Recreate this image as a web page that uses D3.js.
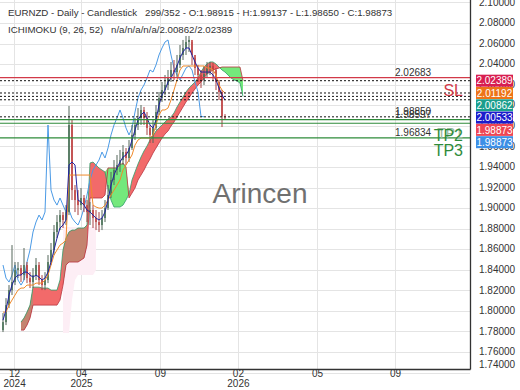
<!DOCTYPE html>
<html>
<head>
<meta charset="utf-8">
<script src="https://cdn.jsdelivr.net/npm/d3@7"></script>
<style>
  body { margin: 0; background: #fff; }
  svg { display: block; font-family: "Liberation Sans", Arial, sans-serif; }
</style>
</head>
<body>
<div id="chart"></div>
<script>
// price data, one entry per sampled session (oldest first)
const firstOpen = 1.7813;
const closes = [1.7891, 1.8056, 1.8202, 1.8280, 1.8397, 1.8416, 1.8348, 1.8446, 1.8319, 1.8280,
  1.8348, 1.8446, 1.8300, 1.8251, 1.8300, 1.8475, 1.8592, 1.8767, 1.8864, 1.8932,
  1.8884, 1.8961, 1.9808, 1.9175, 1.9078, 1.9029, 1.9098, 1.9029, 1.8961, 1.8981,
  1.8903, 1.8864, 1.8835, 1.8903, 1.9000, 1.9127, 1.9273, 1.9370, 1.9419, 1.9467,
  1.9545, 1.9487, 1.9584, 1.9711, 1.9808, 1.9876, 1.9954, 1.9876, 1.9779, 1.9711,
  1.9779, 1.9934, 2.0071, 2.0148, 2.0197, 2.0265, 2.0343, 2.0323, 2.0392, 2.0489,
  2.0557, 2.0615, 2.0635, 2.0489, 2.0362, 2.0294, 2.0246, 2.0304, 2.0362, 2.0382,
  2.0343, 2.0226, 2.0129, 1.98915, 1.98873];
const highs = [1.7979, 1.8124, 1.8251, 1.8640, 1.8475, 1.8475, 1.8446, 1.8611, 1.8475, 1.8377,
  1.8416, 1.8514, 1.8475, 1.8348, 1.8377, 1.8543, 1.8660, 1.8835, 1.8932, 1.8981,
  1.8961, 1.9029, 1.9993, 1.9856, 1.9224, 1.9175, 1.9195, 1.9127, 1.9078, 1.9059,
  1.9029, 1.8981, 1.8961, 1.8981, 1.9078, 1.9224, 1.9351, 1.9467, 1.9516, 1.9565,
  1.9613, 1.9584, 1.9662, 1.9808, 1.9876, 1.9973, 2.0002, 1.9983, 1.9934, 1.9808,
  1.9856, 2.0002, 2.0129, 2.0226, 2.0294, 2.0343, 2.0421, 2.0440, 2.0489, 2.0586,
  2.0635, 2.0674, 2.0674, 2.0615, 2.0460, 2.0392, 2.0343, 2.0382, 2.0421, 2.0421,
  2.0411, 2.0362, 2.0246, 2.0148, 1.99137];
const lows = [1.7794, 1.7862, 1.8027, 1.8154, 1.8251, 1.8319, 1.8280, 1.8300, 1.8270, 1.8222,
  1.8222, 1.8300, 1.8251, 1.8202, 1.8202, 1.8270, 1.8446, 1.8543, 1.8708, 1.8786,
  1.8806, 1.8835, 1.8932, 1.9078, 1.8961, 1.8932, 1.8981, 1.8961, 1.8864, 1.8835,
  1.8806, 1.8786, 1.8767, 1.8786, 1.8864, 1.8981, 1.9098, 1.9224, 1.9321, 1.9351,
  1.9419, 1.9419, 1.9448, 1.9565, 1.9662, 1.9759, 1.9808, 1.9808, 1.9711, 1.9633,
  1.9633, 1.9759, 1.9905, 2.0032, 2.0100, 2.0148, 2.0226, 2.0246, 2.0265, 2.0362,
  2.0440, 2.0489, 2.0518, 2.0392, 2.0294, 2.0226, 2.0168, 2.0197, 2.0265, 2.0294,
  2.0246, 2.0148, 2.0051, 1.9788, 1.98650];

// ichimoku lines
const tenkan = [1.7910, 1.8008, 1.8154, 1.8251, 1.8319, 1.8348, 1.8348, 1.8377, 1.8377, 1.8348,
  1.8329, 1.8348, 1.8329, 1.8300, 1.8319, 1.8377, 1.8475, 1.8592, 1.8708, 1.8806,
  1.8835, 1.8884, 1.9419, 1.9448, 1.9419, 1.9078, 1.9059, 1.9029, 1.8981, 1.8961,
  1.8932, 1.8903, 1.8884, 1.8903, 1.8961, 1.9078, 1.9224, 1.9321, 1.9390, 1.9448,
  1.9496, 1.9516, 1.9565, 1.9662, 1.9759, 1.9856, 1.9905, 1.9934, 1.9876, 1.9808,
  1.9779, 1.9856, 2.0002, 2.0100, 2.0148, 2.0226, 2.0265, 2.0323, 2.0382, 2.0460,
  2.0518, 2.0557, 2.0557, 2.0489, 2.0421, 2.0362, 2.0323, 2.0323, 2.0323, 2.0323,
  2.0294, 2.0246, 2.0168, 2.0100, 2.0051];
const kijun = [1.7988, 1.7988, 1.8056, 1.8105, 1.8154, 1.8202, 1.8222, 1.8222, 1.8251, 1.8251,
  1.8251, 1.8270, 1.8270, 1.8270, 1.8300, 1.8348, 1.8446, 1.8543, 1.8592, 1.8640,
  1.8660, 1.8689, 1.9321, 1.9321, 1.9321, 1.9321, 1.9321, 1.9321, 1.9321, 1.9321,
  1.9029, 1.9010, 1.9000, 1.9000, 1.9029, 1.9078, 1.9127, 1.9175, 1.9224, 1.9273,
  1.9370, 1.9419, 1.9467, 1.9516, 1.9613, 1.9662, 1.9681, 1.9681, 1.9681, 1.9681,
  1.9711, 1.9808, 1.9905, 1.9954, 1.9954, 1.9973, 2.0051, 2.0148, 2.0246, 2.0343,
  2.0382, 2.0382, 2.0382, 2.0382, 2.0382, 2.0382, 2.0382, 2.0382, 2.0362, 2.0362,
  2.0343, 2.0294, 2.0197, 2.0148, 2.0119];
// senkou spans, already shifted forward (null where not drawn)
const spanA = [null, null, null, null, null, null, 1.7891, 1.7930, 1.7988, 1.8056,
  1.8231, 1.8231, 1.8231, 1.8222, 1.8222, 1.8222, 1.8202, 1.8202, 1.8202, 1.8300,
  1.8592, 1.8708, 1.8767, 1.8786, 1.8786, 1.8806, 1.8806, 1.8806, 1.8835, 1.9438,
  1.9448, 1.9419, 1.9390, 1.9370, 1.9351, 1.9195, 1.9078, 1.9010, 1.9010, 1.9010,
  1.9029, 1.9078, 1.9136, 1.9273, 1.9351, 1.9428, 1.9496, 1.9555, 1.9603, 1.9662,
  1.9701, 1.9749, 1.9779, 1.9808, 1.9837, 1.9866, 1.9886, 1.9925, 1.9983, 2.0032,
  2.0080, 2.0129, 2.0168, 2.0197, 2.0226, 2.0265, 2.0323, 2.0372, 2.0401, 2.0421,
  2.0421, 2.0401, 2.0372, 2.0343, 2.0323, 2.0294, 2.0265, 2.0246, 2.0236, 2.0216,
  2.00862];
const spanB = [null, null, null, null, null, null, 1.7813, 1.7813, 1.7862, 1.7930,
  1.8056, 1.8056, 1.8056, 1.8056, 1.8056, 1.8056, 1.8056, 1.8056, 1.8056, 1.8105,
  1.8251, 1.8446, 1.8475, 1.8475, 1.8475, 1.8475, 1.8494, 1.8514, 1.8640, 1.9098,
  1.9098, 1.9098, 1.9098, 1.9098, 1.9127, 1.9390, 1.9390, 1.9390, 1.9390, 1.9419,
  1.9438, 1.9399, 1.9098, 1.9146, 1.9195, 1.9273, 1.9321, 1.9370, 1.9428, 1.9477,
  1.9535, 1.9584, 1.9633, 1.9681, 1.9720, 1.9749, 1.9798, 1.9837, 1.9886, 1.9934,
  1.9983, 2.0032, 2.0071, 2.0119, 2.0158, 2.0197, 2.0226, 2.0265, 2.0304, 2.0323,
  2.0343, 2.0353, 2.0362, 2.0372, 2.0372, 2.0372, 2.0372, 2.0372, 2.0372, 2.0372,
  2.02389];
const chikouShift = 7;
// faint pink shading in the lower left
const haloStart = 20;
const haloHi = [1.8815, 1.8815, 1.8815, 1.8815, 1.8815, 1.8815, 1.8815, 1.8815, 1.8815, 1.8815, 1.8815, 1.8815];
const haloLo = [1.7784, 1.7784, 1.7784, 1.8105, 1.8300, 1.8348, 1.8348, 1.8348, 1.8348, 1.8348, 1.8348, 1.8397];

// axes
const yTicks = [2.10, 2.08, 2.06, 2.04, 2.02, 2.00, 1.98, 1.96, 1.94, 1.92, 1.90, 1.88, 1.86, 1.84, 1.82, 1.80, 1.78, 1.76, 1.74];
const xTickIdx = [3.7, 26, 52.3, 78.3, 104.7, 130.7];
const xTickMonth = ["12", "04", "09", "02", "05", "09"];
const xTickYear = ["2024", "2025", "", "2026", "", ""];

// horizontal levels
const dottedLevels = [2.02389, 2.01192, 2.00862, 2.00533, 1.98873];
const slLevel = 2.02683;
const tpLevels = [1.98597, 1.98250, 1.96834];
const tpNames = ["TP1", "TP2", "TP3"];
const priceLabels = [2.02683, 1.98850, 1.98597, 1.96834];
const tagValues = [2.02389, 2.01192, 2.00862, 2.00533, 1.98873, 1.98873];
const tagColors = ["#d81e50", "#ee7418", "#1b9e8c", "#1c1ccc", "#ef4654", "#3d8fe6"];

const W = 520, H = 390, plotW = 470, plotH = 369;

const x = d3.scaleLinear().domain([-1, 156]).range([0, 471]);
const y = d3.scaleLinear().domain([1.76, 2.08]).range([352, 23]);

const svg = d3.select("#chart").append("svg")
  .attr("width", W).attr("height", H);

svg.append("defs").append("clipPath").attr("id", "plot")
  .append("rect").attr("width", plotW).attr("height", plotH);

// grid
const grid = svg.append("g").attr("stroke", "#e4e4e4").attr("stroke-width", 1);
grid.selectAll(".gy").data(yTicks).enter().append("line")
  .attr("x1", 0).attr("x2", plotW)
  .attr("y1", d => Math.round(y(d)) + 0.5).attr("y2", d => Math.round(y(d)) + 0.5);
grid.selectAll(".gx").data(xTickIdx).enter().append("line")
  .attr("y1", 0).attr("y2", plotH)
  .attr("x1", d => Math.round(x(d)) + 0.5).attr("x2", d => Math.round(x(d)) + 0.5);

const plot = svg.append("g").attr("clip-path", "url(#plot)");

// pink shading
plot.append("path")
  .datum(haloHi.map((v, k) => ({ i: haloStart + k, hi: v, lo: haloLo[k] })))
  .attr("fill", "#fdeef5")
  .attr("d", d3.area().x(d => x(d.i)).y0(d => y(d.lo)).y1(d => y(d.hi)));

// kumo
const kumo = spanA.map((a, i) => ({ i, a, b: spanB[i] })).filter(d => d.a != null);
const redArea = d3.area().x(d => x(d.i)).y0(d => y(d.b)).y1(d => y(Math.max(d.a, d.b)));
const greenArea = d3.area().x(d => x(d.i)).y0(d => y(d.a)).y1(d => y(Math.max(d.a, d.b)));
plot.append("path").datum(kumo).attr("fill", "#f26a6a").attr("d", redArea);
plot.append("path").datum(kumo).attr("fill", "#74e87c").attr("d", greenArea);
[[6, 10], [20, 28]].forEach(([s, e]) => {
  plot.append("path").datum(kumo.filter(d => d.i >= s && d.i <= e))
    .attr("fill", "#c4836f").attr("d", redArea);
});

const line = d3.line().x(d => x(d.i)).y(d => y(d.v));
const series = arr => arr.map((v, i) => ({ i, v })).filter(d => d.v != null);

plot.append("path").datum(series(spanA)).attr("fill", "none")
  .attr("stroke", "#2f9e6a").attr("stroke-width", 0.8).attr("d", line);
plot.append("path").datum(series(spanB)).attr("fill", "none")
  .attr("stroke", "#b8343f").attr("stroke-width", 0.8).attr("d", line);

// chikou
plot.append("path")
  .datum(closes.map((v, i) => ({ i: i - chikouShift, v })).filter(d => d.i >= 0))
  .attr("fill", "none").attr("stroke", "#4a9ae6").attr("stroke-width", 1).attr("d", line);

// candles
const candles = closes.map((c, i) => ({ i, o: i ? closes[i - 1] : firstOpen, h: highs[i], l: lows[i], c }));
const cg = plot.append("g");
cg.selectAll("line").data(candles).enter().append("line")
  .attr("x1", d => x(d.i)).attr("x2", d => x(d.i))
  .attr("y1", d => y(d.h)).attr("y2", d => y(d.l))
  .attr("stroke", d => d.c >= d.o ? "#55665a" : "#a84040").attr("stroke-width", 1);
cg.selectAll("rect").data(candles).enter().append("rect")
  .attr("x", d => x(d.i) - 0.8)
  .attr("width", 1.6)
  .attr("y", d => y(Math.max(d.o, d.c)))
  .attr("height", d => Math.max(1, Math.abs(y(d.o) - y(d.c))))
  .attr("fill", d => d.c >= d.o ? "#4a7358" : "#c04444");

// kijun and tenkan
plot.append("path").datum(series(kijun)).attr("fill", "none")
  .attr("stroke", "#f08a2a").attr("stroke-width", 1).attr("d", line);
plot.append("path").datum(series(tenkan)).attr("fill", "none")
  .attr("stroke", "#2323a0").attr("stroke-width", 1).attr("d", line);

// level lines
const lv = svg.append("g");
lv.selectAll(".dot").data(dottedLevels).enter().append("line")
  .attr("x1", 0).attr("x2", plotW)
  .attr("y1", d => y(d)).attr("y2", d => y(d))
  .attr("stroke", "#111").attr("stroke-width", 1).attr("stroke-dasharray", "2,2");
lv.append("line").attr("x1", 0).attr("x2", plotW)
  .attr("y1", y(slLevel)).attr("y2", y(slLevel))
  .attr("stroke", "#d23a48").attr("stroke-width", 1.2);
lv.selectAll(".tp").data(tpLevels).enter().append("line")
  .attr("x1", 0).attr("x2", plotW)
  .attr("y1", d => y(d)).attr("y2", d => y(d))
  .attr("stroke", "#2e8b3a").attr("stroke-width", 1.2);

lv.selectAll(".pl").data(priceLabels).enter().append("text")
  .attr("x", 395).attr("y", d => y(d) - 2)
  .attr("fill", "#333").style("font-size", "10px")
  .text(d => d.toFixed(5));

lv.append("text").attr("x", 463).attr("y", y(slLevel) + 18)
  .attr("text-anchor", "end").attr("fill", "#d23a48").style("font-size", "16px").text("SL");
lv.selectAll(".tpl").data(tpLevels).enter().append("text")
  .attr("x", 463).attr("y", d => y(d) + 18)
  .attr("text-anchor", "end")
  .attr("fill", (d, k) => k === 0 ? "#9cb89c" : "#2e8b3a")
  .style("font-size", (d, k) => k === 0 ? "14px" : "16px")
  .text((d, k) => tpNames[k]);

// watermark
svg.append("text").attr("x", 260).attr("y", 203).attr("text-anchor", "middle")
  .attr("fill", "#707070").style("font-size", "28px").text("Arincen");

// frame
svg.append("line").attr("x1", plotW + 0.5).attr("x2", plotW + 0.5).attr("y1", 0).attr("y2", plotH + 0.5)
  .attr("stroke", "#333").attr("stroke-width", 1.3);
svg.append("line").attr("x1", 0).attr("x2", plotW + 0.5).attr("y1", plotH + 0.5).attr("y2", plotH + 0.5)
  .attr("stroke", "#333").attr("stroke-width", 1.3);

// y axis
const yAxis = svg.append("g").attr("transform", `translate(${plotW},0)`)
  .call(d3.axisRight(y).tickValues(yTicks).tickSize(0).tickPadding(9).tickFormat(d3.format(".5f")));
yAxis.select(".domain").remove();
yAxis.selectAll(".tick").attr("transform", d => `translate(0,${Math.min(y(d), plotH - 4)})`);
yAxis.selectAll("text").attr("fill", "#333").style("font-size", "10px")
  .style("font-family", "'Liberation Sans', Arial, sans-serif");

// x axis
const xAxis = svg.append("g").attr("transform", `translate(0,${plotH})`)
  .call(d3.axisBottom(x).tickValues(xTickIdx).tickSize(0).tickPadding(1).tickFormat((d, k) => xTickMonth[k]));
xAxis.select(".domain").remove();
xAxis.selectAll("text").attr("fill", "#333").style("font-size", "10px")
  .style("font-family", "'Liberation Sans', Arial, sans-serif");
xAxis.selectAll(".tick").append("text")
  .attr("y", 18).attr("fill", "#333").style("font-size", "10px")
  .style("font-family", "'Liberation Sans', Arial, sans-serif")
  .text((d, k) => xTickYear[k]);

// price tags, pushed down so they do not overlap
let lastY = -Infinity;
const tags = tagValues.map((v, k) => {
  const ty = Math.max(y(v), lastY + 12.3);
  lastY = ty;
  return { v, ty, c: tagColors[k] };
});
const tg = svg.append("g").selectAll("g").data(tags).enter().append("g")
  .attr("transform", d => `translate(476,${d.ty})`);
tg.append("rect").attr("x", 0).attr("y", -6).attr("width", 37).attr("height", 12)
  .attr("fill", d => d.c);
tg.append("text").attr("x", 18.5).attr("y", 3.6).attr("text-anchor", "middle")
  .attr("fill", "#fff").style("font-size", "10px").text(d => d.v.toFixed(5));

// header
const hd = svg.append("g").attr("fill", "#333").style("font-size", "9.7px");
hd.append("text").attr("x", 8).attr("y", 16).text("EURNZD - Daily - Candlestick");
hd.append("text").attr("x", 145).attr("y", 16)
  .text("299/352 - O:1.98915 - H:1.99137 - L:1.98650 - C:1.98873");
hd.append("text").attr("x", 8).attr("y", 33).text("ICHIMOKU (9, 26, 52)");
hd.append("text").attr("x", 111).attr("y", 33).text("n/a/n/a/n/a/2.00862/2.02389");
</script>
</body>
</html>
